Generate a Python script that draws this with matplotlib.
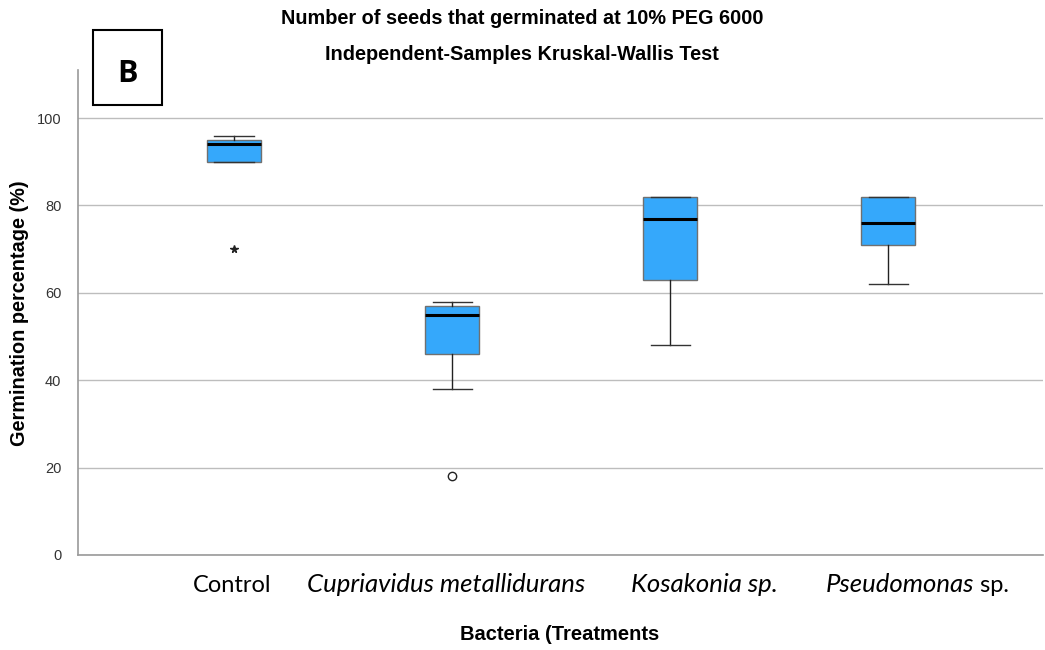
import matplotlib
matplotlib.use("Agg")
import matplotlib.pyplot as plt
from matplotlib.patches import Rectangle

categories = ["Control", "Cupriavidus metallidurans", "Kosakonia sp.", "Pseudomonas sp."]
whislo = [90, 38, 48, 62]
q1 = [90, 46, 63, 71]
med = [94, 55, 77, 76]
q3 = [95, 57, 82, 82]
whishi = [96, 58, 82, 82]
outliers = [[70], [18], [], []]
outlier_marker = ["*", "o", "o", "o"]
yticks = [0, 20, 40, 60, 80, 100]

fig = plt.figure(figsize=(10.45, 6.5), dpi=100)
ax = fig.add_axes([78/1045, 1-555/650, (1043-78)/1045, (555-70)/650])

stats = []
for i in range(len(categories)):
    stats.append(dict(label=categories[i], whislo=whislo[i], q1=q1[i], med=med[i],
                      q3=q3[i], whishi=whishi[i], fliers=[]))
positions = [1, 2, 3, 4]
ax.bxp(stats, positions=positions, widths=0.25, patch_artist=True, showfliers=False,
       boxprops=dict(facecolor="#35a8fb", edgecolor="#707070", linewidth=1.0),
       medianprops=dict(color="black", linewidth=2.2),
       whiskerprops=dict(color="#222222", linewidth=1.0),
       capprops=dict(color="#333333", linewidth=1.0),
       capwidths=0.18, zorder=3)
for p, outs, m in zip(positions, outliers, outlier_marker):
    for o in outs:
        if m == "o":
            ax.plot(p, o, marker="o", markersize=6, markerfacecolor="white",
                    markeredgecolor="#222222", markeredgewidth=1.0, zorder=4)
        else:
            ax.plot(p, o, marker="*", markersize=5.5, color="#222222", zorder=4)

ax.set_xlim(0.284, 4.71)
ax.set_ylim(0, 111)
ax.set_yticks(yticks)
ax.set_yticklabels([str(t) for t in yticks], fontsize=10.5, color="#333333", family="Liberation Sans")
ax.tick_params(axis="y", length=0, pad=12)
ax.set_xticks([])
ax.grid(axis="y", color="#bdbdbd", linewidth=1.0, zorder=0)
ax.set_axisbelow(True)
for s in ["top", "right"]:
    ax.spines[s].set_visible(False)
for s in ["left", "bottom"]:
    ax.spines[s].set_color("#9a9a9a")
    ax.spines[s].set_linewidth(1.2)

# x category labels
lab_font = "Lato"
fs = 17
fsi = 18.5
ly = 1 - 585/650
fig.text(232/1045, ly, "Control", ha="center", va="center", fontsize=fs, family=lab_font)
fig.text(446/1045, ly, "Cupriavidus metallidurans", ha="center", va="center", fontsize=fsi,
         family=lab_font, style="italic")
fig.text(704/1045, ly, "Kosakonia sp.", ha="center", va="center", fontsize=fsi,
         family=lab_font, style="italic")
t1 = fig.text(826/1045, ly, "Pseudomonas", ha="left", va="center", fontsize=fsi,
              family=lab_font, style="italic")
ax.annotate(" sp.", xy=(1, 0.5), xycoords=t1, ha="left", va="center", fontsize=fs,
            family=lab_font, annotation_clip=False)

fig.text(560/1045, 1-635/650, "Bacteria (Treatments", ha="center", va="center", fontsize=14.5,
         family="Liberation Sans", fontweight="bold")
fig.text(20/1045, 1-313/650, "Germination percentage (%)", ha="center", va="center",
         rotation=90, fontsize=14.3, family="Liberation Sans", fontweight="bold")

fig.text(522/1045, 1-19/650, "Number of seeds that germinated at 10% PEG 6000", ha="center",
         va="center", fontsize=14.3, family="Liberation Sans", fontweight="bold")
fig.text(522/1045, 1-54/650, "Independent-Samples Kruskal-Wallis Test", ha="center",
         va="center", fontsize=14.3, family="Liberation Sans", fontweight="bold")

fig.patches.append(Rectangle((93/1045, 1-105/650), 69/1045, 75/650, transform=fig.transFigure,
                             facecolor="white", edgecolor="black", linewidth=1.5, zorder=5))
fig.text(127/1045, 1-74/650, "B", ha="center", va="center", fontsize=22, fontweight="bold",
         family="Open Sans", zorder=6)

fig.savefig("out.png", dpi=100)
